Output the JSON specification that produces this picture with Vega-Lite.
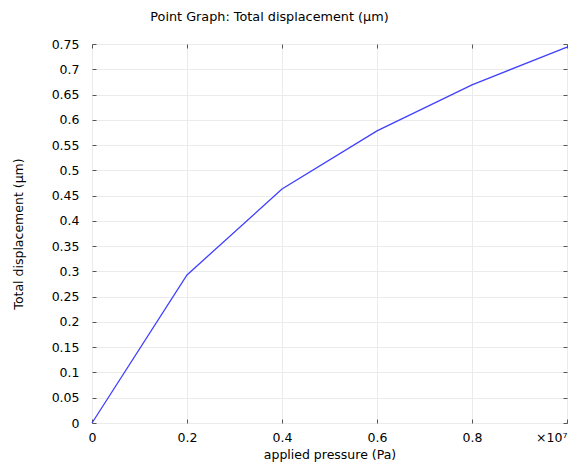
{
  "$schema": "https://vega.github.io/schema/vega-lite/v6.json",
  "width": 475,
  "height": 379,
  "autosize": {"type": "none"},
  "padding": {"left": 92, "top": 44, "right": 9, "bottom": 41},
  "background": "white",
  "title": {"text": "Point Graph: Total displacement (μm)", "font": "DejaVu Sans", "fontSize": 12.8, "fontWeight": "normal", "color": "#000000", "offset": 14, "dx": -60},
  "config": {
    "view": {"stroke": "#999999", "strokeWidth": 1},
    "axis": {"labelFont": "DejaVu Sans", "titleFont": "DejaVu Sans", "labelFontSize": 12.5, "titleFontSize": 12.5, "titleFontWeight": "normal", "labelColor": "#000000", "titleColor": "#000000", "domain": false, "tickColor": "#555555", "tickWidth": 1, "tickSize": -4, "gridColor": "#ebebeb", "gridWidth": 1}
  },
  "data": {"values": [
    {"pressure": 0, "disp": 0},
    {"pressure": 2000000, "disp": 0.293},
    {"pressure": 4000000, "disp": 0.463},
    {"pressure": 6000000, "disp": 0.578},
    {"pressure": 8000000, "disp": 0.669},
    {"pressure": 10000000, "disp": 0.744}
  ]},
  "layer": [
    {
      "mark": {"type": "line", "color": "#4040ff", "strokeWidth": 1.3},
      "encoding": {
        "x": {"field": "pressure", "type": "quantitative", "scale": {"domain": [0, 10000000], "nice": false, "zero": false},
          "axis": {"orient": "bottom", "values": [0, 2000000, 4000000, 6000000, 8000000, 10000000], "labelExpr": "datum.value == 10000000 ? '×10⁷' : format(datum.value / 10000000, '~g')", "labelAlign": {"condition": {"test": "datum.value == 10000000", "value": "right"}, "value": "center"}, "labelPadding": 12, "title": "applied pressure (Pa)", "titlePadding": 5, "labelFlush": false}},
        "y": {"field": "disp", "type": "quantitative", "scale": {"domain": [0, 0.75], "nice": false},
          "axis": {"orient": "left", "values": [0, 0.05, 0.1, 0.15, 0.2, 0.25, 0.3, 0.35, 0.4, 0.45, 0.5, 0.55, 0.6, 0.65, 0.7, 0.75], "labelExpr": "format(datum.value, '~g')", "labelPadding": 17, "title": "Total displacement (μm)", "titlePadding": 26}}
      }
    },
    {
      "mark": {"type": "line", "opacity": 0},
      "encoding": {
        "x": {"field": "pressure", "type": "quantitative", "scale": {"domain": [0, 10000000], "nice": false, "zero": false},
          "axis": {"orient": "top", "values": [0, 2000000, 4000000, 6000000, 8000000, 10000000], "labels": false, "grid": false, "title": null}},
        "y": {"field": "disp", "type": "quantitative", "scale": {"domain": [0, 0.75], "nice": false},
          "axis": {"orient": "right", "values": [0, 0.05, 0.1, 0.15, 0.2, 0.25, 0.3, 0.35, 0.4, 0.45, 0.5, 0.55, 0.6, 0.65, 0.7, 0.75], "labels": false, "grid": false, "title": null}}
      }
    }
  ],
  "resolve": {"axis": {"x": "independent", "y": "independent"}}
}
